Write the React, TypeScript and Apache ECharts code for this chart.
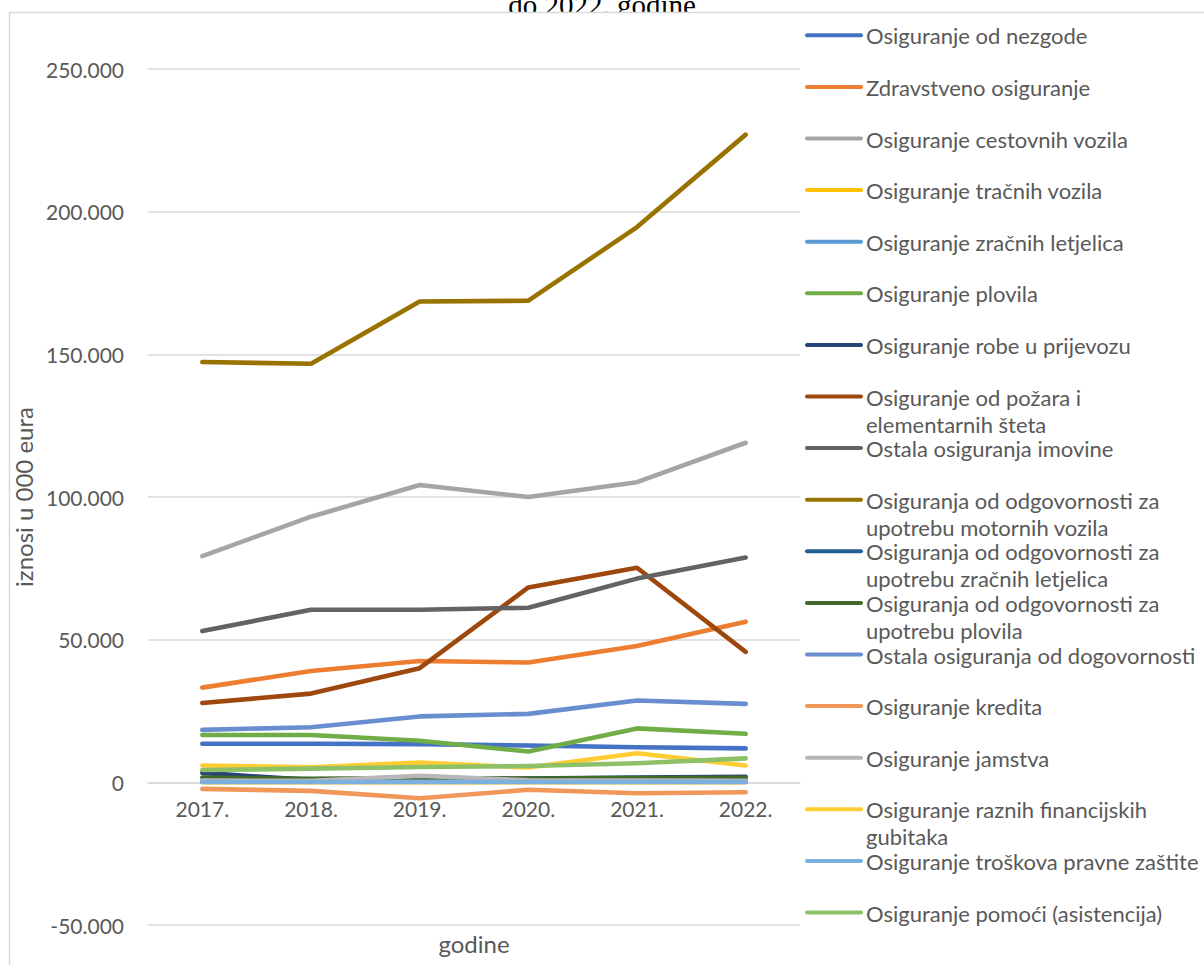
import React, { useEffect, useRef } from "react";
import * as echarts from "echarts";

const years = ["2017.", "2018.", "2019.", "2020.", "2021.", "2022."];

const legendLabels = [
  "Osiguranje od nezgode",
  "Zdravstveno osiguranje",
  "Osiguranje cestovnih vozila",
  "Osiguranje tračnih vozila",
  "Osiguranje zračnih letjelica",
  "Osiguranje plovila",
  "Osiguranje robe u prijevozu",
  "Osiguranje od požara i\nelementarnih šteta",
  "Ostala osiguranja imovine",
  "Osiguranja od odgovornosti za\nupotrebu motornih vozila",
  "Osiguranja od odgovornosti za\nupotrebu zračnih letjelica",
  "Osiguranja od odgovornosti za\nupotrebu plovila",
  "Ostala osiguranja od dogovornosti",
  "Osiguranje kredita",
  "Osiguranje jamstva",
  "Osiguranje raznih financijskih\ngubitaka",
  "Osiguranje troškova pravne zaštite",
  "Osiguranje pomoći (asistencija)",
];

const colors = [
  "#4472C4", "#ED7D31", "#A5A5A5", "#FFC000", "#5B9BD5", "#70AD47",
  "#264478", "#9E480E", "#636363", "#997300", "#255E91", "#43682B",
  "#698ED0", "#F1975A", "#B7B7B7", "#FFCD33", "#7CAFDD", "#8CC168",
];

const nezgode = [13500, 13500, 13400, 12900, 12300, 11900];
const zdravstveno = [33200, 39000, 42500, 42000, 47800, 56300];
const cestovnih = [79300, 93100, 104200, 100000, 105200, 119000];
const tracnih = [50, 40, 60, 50, 40, 50];
const zracnih = [400, 350, 380, 300, 350, 400];
const plovila = [16600, 16600, 14600, 10800, 18900, 17000];
const robe = [3300, 800, 1200, 1300, 1700, 1900];
const pozara = [27800, 31100, 40000, 68300, 75200, 45700];
const imovine = [53000, 60500, 60500, 61200, 71400, 78800];
const motornaOdg = [147300, 146700, 168500, 168800, 194600, 227000];
const zracnihOdg = [200, 200, 200, 200, 200, 200];
const plovilaOdg = [1700, 1200, 1500, 1300, 1500, 1600];
const ostalaOdg = [18400, 19300, 23100, 24000, 28700, 27500];
const kredita = [-2300, -3000, -5600, -2600, -3800, -3500];
const jamstva = [600, 500, 2300, 700, 600, 500];
const financijski = [5900, 5300, 6900, 5200, 10200, 5900];
const pravne = [100, 100, 150, 100, 100, 150];
const pomoci = [4300, 4800, 5400, 5700, 6700, 8400];

const seriesData = [
  nezgode, zdravstveno, cestovnih, tracnih, zracnih, plovila, robe, pozara,
  imovine, motornaOdg, zracnihOdg, plovilaOdg, ostalaOdg, kredita, jamstva,
  financijski, pravne, pomoci,
];

const yTicks = { min: -50000, max: 250000, interval: 50000 };

const FONT = "Lato";
const FS = 22;
const TICK_FS = 21;
const NAME_FS = 24;
const TXT = "#595959";
const GRID = "#D9D9D9";

function fmt(v: number) {
  const s = Math.abs(v).toString().replace(/\B(?=(\d{3})+(?!\d))/g, ".");
  return (v < 0 ? "-" : "") + s;
}

export default function App() {
  const ref = useRef<HTMLDivElement>(null);
  useEffect(() => {
    if (!ref.current) return;
    const chart = echarts.init(ref.current, undefined, { renderer: "svg" });
    const gridTop = 69;
    const gridHeight = 856;
    // lift the category axis from the grid bottom up to the value 0
    const zeroOffset =
      -((0 - yTicks.min) / (yTicks.max - yTicks.min)) * gridHeight;
    const legendTop = 35.3;
    const legendStep = 51.6;
    const legendGraphics: any[] = [];
    legendLabels.forEach((lab, i) => {
      const y = legendTop + legendStep * i;
      legendGraphics.push({
        type: "line",
        z: 10,
        shape: { x1: 807, y1: y, x2: 861, y2: y },
        style: { stroke: colors[i], lineWidth: 4, lineCap: "round" },
      });
      legendGraphics.push({
        type: "text",
        z: 10,
        x: 866,
        y: y - 13,
        style: {
          text: lab,
          fill: TXT,
          fontSize: FS,
          fontFamily: FONT,
          lineHeight: 27,
          verticalAlign: "top",
          align: "left",
        },
      });
    });
    const option: any = {
      animation: false,
      backgroundColor: "#ffffff",
      textStyle: { fontFamily: FONT },
      grid: {
        left: 148,
        top: gridTop,
        width: 652,
        height: gridHeight,
        containLabel: false,
        outerBoundsMode: "none",
      },
      graphic: [
        {
          type: "text",
          z: 0,
          x: 602,
          y: 5,
          style: {
            text: "do 2022. godine",
            fill: "#000",
            fontSize: 29,
            fontFamily: "Liberation Serif",
            align: "center",
            verticalAlign: "middle",
          },
        },
        {
          type: "rect",
          z: 1,
          shape: { x: 400, y: 13, width: 400, height: 10 },
          style: { fill: "#fff" },
        },
        {
          type: "rect",
          z: 2,
          shape: { x: 9.5, y: 12.5, width: 1300, height: 1000 },
          style: { fill: "none", stroke: GRID, lineWidth: 1.5 },
        },
        ...legendGraphics,
      ],
      xAxis: {
        type: "category",
        data: years,
        boundaryGap: true,
        position: "bottom",
        offset: zeroOffset,
        axisLine: { show: true, onZero: false, lineStyle: { color: GRID, width: 1.5 } },
        axisTick: { show: false },
        axisLabel: { color: TXT, fontSize: TICK_FS, fontFamily: FONT, margin: 16 },
        name: "godine",
        nameLocation: "middle",
        nameGap: 149,
        nameTextStyle: { color: TXT, fontSize: NAME_FS, fontFamily: FONT },
      },
      yAxis: {
        type: "value",
        min: yTicks.min,
        max: yTicks.max,
        interval: yTicks.interval,
        axisLine: { show: false },
        axisTick: { show: false },
        splitLine: { lineStyle: { color: GRID, width: 1.5 } },
        axisLabel: {
          color: TXT,
          fontSize: TICK_FS,
          fontFamily: FONT,
          margin: 24,
          formatter: (v: number) => fmt(v),
        },
        name: "iznosi u 000 eura",
        nameLocation: "middle",
        nameRotate: 90,
        nameGap: 93,
        nameTextStyle: { color: TXT, fontSize: NAME_FS, fontFamily: FONT },
      },
      series: seriesData.map((d, i) => ({
        type: "line",
        name: legendLabels[i].replace("\n", " "),
        data: d,
        symbol: "none",
        z: 3,
        lineStyle: { color: colors[i], width: 4.6, cap: "round", join: "round" },
        itemStyle: { color: colors[i] },
      })),
    };
    chart.setOption(option);
    return () => chart.dispose();
  }, []);
  return (
    <div
      ref={ref}
      style={{ position: "absolute", left: 0, top: 0, width: 1204, height: 965 }}
    />
  );
}
